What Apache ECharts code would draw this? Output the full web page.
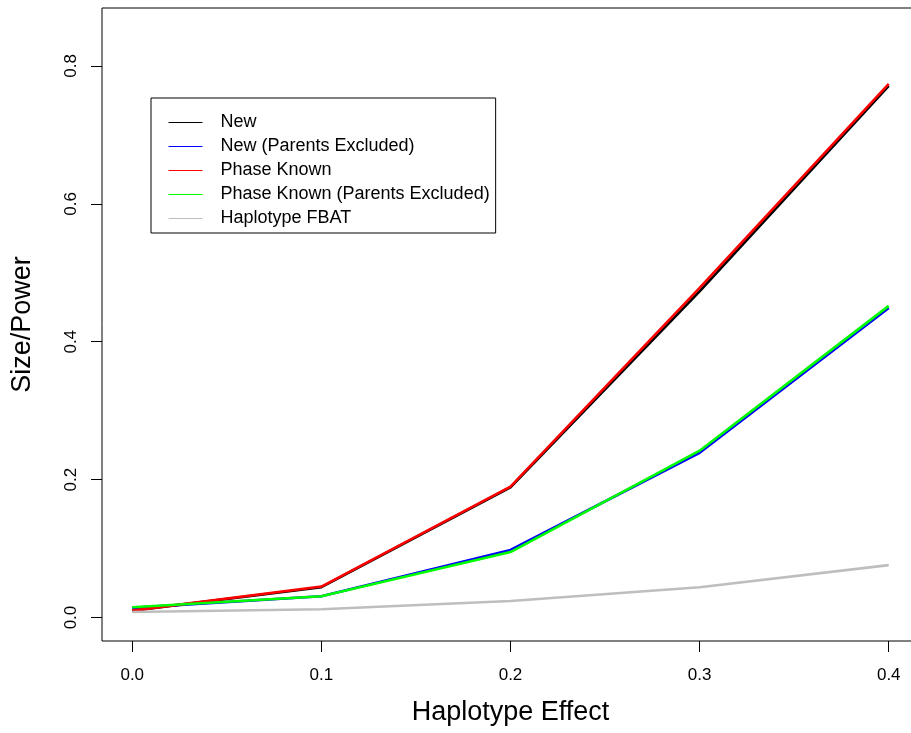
<!DOCTYPE html>
<html>
<head>
<meta charset="utf-8">
<script src="https://cdn.jsdelivr.net/npm/echarts@6/dist/echarts.min.js"></script>
<style>
  html, body { margin: 0; padding: 0; background: #fff; }
  #main { width: 911px; height: 733px; }
</style>
</head>
<body>
<div id="main"></div>
<script>
// haplotype effect values on x axis
var effects = [0.0, 0.1, 0.2, 0.3, 0.4];
var xTicks = [0, 0.1, 0.2, 0.3, 0.4];
var yTicks = [0, 0.2, 0.4, 0.6, 0.8];

// size / power for each method
var newMethod      = [0.010, 0.044, 0.189, 0.473, 0.771];
var newExcl        = [0.014, 0.031, 0.098, 0.239, 0.449];
var phaseKnown     = [0.010, 0.045, 0.190, 0.478, 0.774];
var phaseKnownExcl = [0.015, 0.031, 0.095, 0.242, 0.452];
var haploFbat      = [0.008, 0.012, 0.024, 0.044, 0.076];

var names  = ['New', 'New (Parents Excluded)', 'Phase Known', 'Phase Known (Parents Excluded)', 'Haplotype FBAT'];
var values = [newMethod, newExcl, phaseKnown, phaseKnownExcl, haploFbat];
var colors = ['#000000', '#0000ff', '#ff0000', '#00ff00', '#bebebe'];

var font = '"Liberation Sans", Arial, Helvetica, sans-serif';

function pairs(ys) {
    return effects.map(function (x, i) { return [x, ys[i]]; });
}

var chart = echarts.init(document.getElementById('main'));

var option = {
    backgroundColor: '#fff',
    animation: false,
    textStyle: { fontFamily: font },
    grid: {
        left: 102, top: 8, width: 817, height: 633,
        outerBoundsMode: 'none',
        containLabel: false,
        show: true, borderColor: '#000', borderWidth: 1
    },
    legend: {
        orient: 'vertical',
        left: 151, top: 98,
        data: names,
        backgroundColor: '#fff',
        borderColor: '#000', borderWidth: 1,
        borderRadius: 0,
        padding: [14.5, 6, 4.5, 17],
        itemWidth: 34, itemHeight: 14, itemGap: 4,
        lineStyle: { width: 1 },
        itemStyle: { opacity: 0 },
        textStyle: { fontFamily: font, fontSize: 18, lineHeight: 20, color: '#000', padding: [0, 0, 0, 13] }
    },
    xAxis: {
        type: 'value',
        min: -0.016, max: 0.416,
        name: 'Haplotype Effect',
        nameLocation: 'middle',
        nameGap: 58,
        nameTextStyle: { fontFamily: font, fontSize: 27, color: '#000' },
        axisLine: { show: false, onZero: false },
        splitLine: { show: false },
        axisTick: { show: true, length: 11, customValues: xTicks, lineStyle: { color: '#000' } },
        axisLabel: {
            customValues: xTicks, margin: 26,
            fontFamily: font, fontSize: 17, color: '#000',
            formatter: function (v) { return v.toFixed(1); }
        }
    },
    yAxis: {
        type: 'value',
        min: -0.034, max: 0.884,
        name: 'Size/Power',
        nameLocation: 'middle',
        nameGap: 66,
        nameTextStyle: { fontFamily: font, fontSize: 27, color: '#000' },
        axisLine: { show: false, onZero: false },
        splitLine: { show: false },
        axisTick: { show: true, length: 11, customValues: yTicks, lineStyle: { color: '#000' } },
        axisLabel: {
            customValues: yTicks, margin: 22, rotate: 90,
            fontFamily: font, fontSize: 17, color: '#000',
            formatter: function (v) { return v.toFixed(1); }
        }
    },
    series: names.map(function (n, i) {
        return {
            name: n,
            type: 'line',
            data: pairs(values[i]),
            symbol: 'none',
            color: colors[i],
            lineStyle: { color: colors[i], width: 2.6 }
        };
    })
};

chart.setOption(option);
</script>
</body>
</html>
